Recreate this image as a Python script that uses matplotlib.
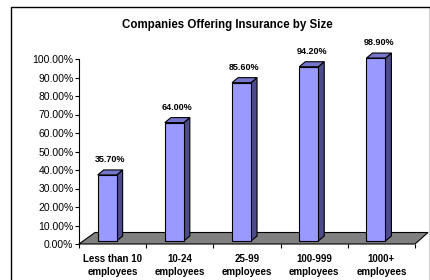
import matplotlib
matplotlib.use("Agg")
import matplotlib.pyplot as plt
from matplotlib.patches import Polygon, Rectangle
from matplotlib.transforms import ScaledTranslation

categories = ["Less than 10\nemployees", "10-24\nemployees", "25-99\nemployees",
              "100-999\nemployees", "1000+\nemployees"]
values = [35.7, 64.0, 85.6, 94.2, 98.9]
labels = ["35.70%", "64.00%", "85.60%", "94.20%", "98.90%"]
yticks = list(range(0, 101, 10))
ytick_labels = ["%.2f%%" % v for v in yticks]

W, H = 431, 280
fig = plt.figure(figsize=(W / 100, H / 100), dpi=100)
plt.rcParams['font.family'] = ['Liberation Sans', 'DejaVu Sans']

# outer border
fig.patches.append(Rectangle((11 / W, -0.05), (430 - 11) / W, (H - 7) / H + 0.05,
                             transform=fig.transFigure, fill=False, edgecolor='black',
                             linewidth=1.0))

ax = fig.add_axes([79 / W, 36 / H, (415 - 79) / W, (244 - 59) / H])
ax.set_xlim(0, 5)
ax.set_ylim(0, 100)
for s in ['top', 'right', 'bottom']:
    ax.spines[s].set_visible(False)
ax.spines['left'].set_linewidth(0.8)
ax.patch.set_visible(False)

def px(dx, dy):
    return ax.transData + ScaledTranslation(dx / 100, dy / 100, fig.dpi_scale_trans)

# floor (data coordinates, depth offsets in pixels)
px_per_x = (415 - 79) / 5.0
px_per_y = (244 - 59) / 100.0
floor = Polygon([(0, 0), (5, 0), (5 + 13 / px_per_x, 11.5 / px_per_y),
                 (0 + 16 / px_per_x, 11.5 / px_per_y)], closed=True,
                facecolor='#808080', edgecolor='black', linewidth=0.8, clip_on=False, zorder=1)
ax.add_patch(floor)

front_c = '#9999FF'
top_c = '#7676CC'
side_c = '#4C4C8A'
bw = 0.282
off = 0.278
ddx, ddy = 6 / px_per_x, 5 / px_per_y
tb = px(0, 3)
for i, v in enumerate(values):
    x0 = i + off
    x1 = x0 + bw
    side = Polygon([(x1, 0), (x1, v), (x1 + ddx, v + ddy), (x1 + ddx, ddy)], closed=True,
                   facecolor=side_c, edgecolor='black', linewidth=0.8, transform=tb,
                   clip_on=False, zorder=3)
    top = Polygon([(x0, v), (x1, v), (x1 + ddx, v + ddy), (x0 + ddx, v + ddy)], closed=True,
                  facecolor=top_c, edgecolor='black', linewidth=0.8, transform=tb,
                  clip_on=False, zorder=3)
    front = Polygon([(x0, 0), (x1, 0), (x1, v), (x0, v)], closed=True,
                    facecolor=front_c, edgecolor='black', linewidth=0.8, transform=tb,
                    clip_on=False, zorder=4)
    ax.add_patch(side)
    ax.add_patch(top)
    ax.add_patch(front)
    ax.text((x0 + x1) / 2 + ddx / 2, v + ddy + 3.0, labels[i], transform=tb,
            ha='center', va='bottom', fontsize=6.5, fontweight='bold', zorder=5)

ax.set_yticks(yticks)
ax.set_yticklabels(ytick_labels, fontsize=7.5)
ax.tick_params(axis='y', length=3, width=0.8, pad=1, direction='out', colors='black')

# x axis: ticks at category boundaries, labels at centers
ax.set_xticks([0, 1, 2, 3, 4, 5])
ax.set_xticklabels([])
ax.tick_params(axis='x', length=3, width=0.8, direction='out')
ax.set_xticks([0.5, 1.5, 2.5, 3.5, 4.5], minor=True)
ax.set_xticklabels(categories, minor=True, fontsize=7, fontweight='bold')
ax.tick_params(axis='x', which='minor', length=0, pad=7)
for t in ax.get_xticklabels(minor=True):
    t.set_linespacing(1.35)

fig.text(227 / W, 1 - 25 / H, "Companies Offering Insurance by Size", ha='center', va='center',
         fontsize=8.3, fontweight='bold')

fig.savefig("out.png", dpi=100)
